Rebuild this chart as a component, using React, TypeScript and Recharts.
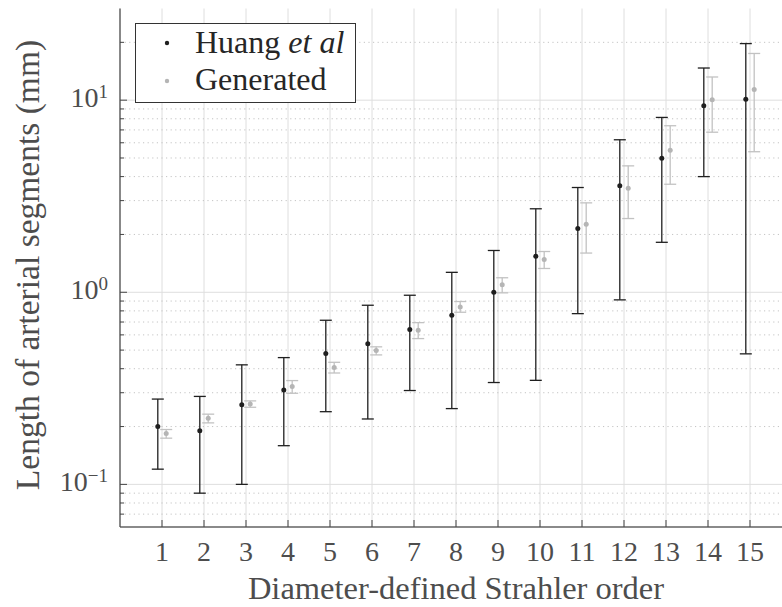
import React from 'react';
import {
  ScatterChart,
  Scatter,
  XAxis,
  YAxis,
  CartesianGrid,
  ErrorBar,
  ReferenceLine,
  Legend,
  Label,
} from 'recharts';

// Strahler orders (diameter-defined)
const orders = [1, 2, 3, 4, 5, 6, 7, 8, 9, 10, 11, 12, 13, 14, 15];

// Huang et al: mean segment length and its range (mm)
const huangMean = [0.2, 0.19, 0.26, 0.31, 0.48, 0.54, 0.64, 0.76, 1.0, 1.54, 2.15, 3.58, 4.99, 9.35, 10.1];
const huangLow = [0.12, 0.09, 0.1, 0.159, 0.239, 0.219, 0.308, 0.248, 0.339, 0.348, 0.774, 0.913, 1.82, 4.0, 0.478];
const huangHigh = [0.278, 0.287, 0.419, 0.457, 0.715, 0.856, 0.965, 1.27, 1.65, 2.72, 3.51, 6.22, 8.13, 14.7, 19.7];

// Generated tree: mean segment length and its range (mm)
const genMean = [0.184, 0.221, 0.262, 0.323, 0.406, 0.497, 0.634, 0.839, 1.093, 1.48, 2.26, 3.48, 5.49, 10.05, 11.37];
const genLow = [0.174, 0.209, 0.252, 0.298, 0.38, 0.472, 0.574, 0.787, 0.993, 1.33, 1.6, 2.42, 3.65, 6.81, 5.39];
const genHigh = [0.193, 0.232, 0.272, 0.347, 0.432, 0.52, 0.695, 0.895, 1.19, 1.63, 2.92, 4.55, 7.36, 13.2, 17.5];

// Axis ticks
const xTicks = orders;
const yMajorTicks = [0.1, 1, 10];
const yMinorTicks = [0.07, 0.08, 0.09, 0.2, 0.3, 0.4, 0.5, 0.6, 0.7, 0.8, 0.9, 2, 3, 4, 5, 6, 7, 8, 9, 20];
const yDomain = [0.06, 30];
const xDomain = [0, 16];

const HUANG_NAME = 'Huang et al';
const GEN_NAME = 'Generated';

const FONT = 'Liberation Serif, Tinos, Times New Roman, DejaVu Serif, Noto Serif, serif';
const TEXT = '#4d4d4d';
const AXIS = '#444444';
const GRID = '#dedede';
const DARK = '#1f1f1f';
const LIGHT = '#b5b5b5';
const SHIFT = 0.1;

const buildSeries = (mean: number[], low: number[], high: number[], shift: number) =>
  orders.map((o, i) => ({
    x: o + shift,
    y: mean[i],
    err: [mean[i] - low[i], high[i] - mean[i]],
  }));

const huangData = buildSeries(huangMean, huangLow, huangHigh, -SHIFT);
const genData = buildSeries(genMean, genLow, genHigh, SHIFT);

const isMajor = (v: number) => Math.abs(Math.log10(v) - Math.round(Math.log10(v))) < 1e-9;

function YTick(props: any) {
  const { x, y, payload } = props;
  const v = payload.value;
  const major = isMajor(v);
  const exp = Math.round(Math.log10(v));
  return (
    <g>
      <line x1={x} y1={y} x2={x + (major ? 7 : 4)} y2={y} stroke={AXIS} strokeWidth={1} />
      {major && (
        <text x={x - 12} y={y + 7} textAnchor="end" style={{ fontFamily: FONT }} fontSize={28} fill={TEXT}>
          10
          <tspan dy={-9} fontSize={19}>
            {exp < 0 ? '\u2212' + Math.abs(exp) : String(exp)}
          </tspan>
        </text>
      )}
    </g>
  );
}

function XTickBottom(props: any) {
  const { x, y, payload } = props;
  return (
    <g>
      <line x1={x} y1={y} x2={x} y2={y - 7} stroke={AXIS} strokeWidth={1} />
      <text x={x} y={y + 34} textAnchor="middle" style={{ fontFamily: FONT }} fontSize={28} fill={TEXT}>
        {payload.value}
      </text>
    </g>
  );
}

function XTickTop(props: any) {
  const { x, y } = props;
  return <line x1={x} y1={y} x2={x} y2={y + 7} stroke={AXIS} strokeWidth={1} />;
}

const Dot = (color: string) => (p: any) => <circle cx={p.cx} cy={p.cy} r={2.5} fill={color} />;

function LegendBox() {
  return (
    <svg width={222} height={81} style={{ display: 'block' }}>
      <rect x={0.5} y={0.5} width={220} height={79} fill="#fff" stroke="#333" strokeWidth={1} />
      <circle cx={32} cy={20} r={2.2} fill={DARK} />
      <text x={60} y={30} style={{ fontFamily: FONT }} fontSize={32} fill="#262626">
        Huang <tspan fontStyle="italic">et al</tspan>
      </text>
      <circle cx={32} cy={58} r={2.2} fill={LIGHT} />
      <text x={60} y={66.5} style={{ fontFamily: FONT }} fontSize={32} fill="#262626">
        {GEN_NAME}
      </text>
    </svg>
  );
}

export default function App() {
  return (
    <div style={{ width: 782, height: 607, overflow: 'hidden', position: 'relative', background: '#fff' }}>
      <style>{'html,body{margin:0;padding:0;overflow:hidden;background:#fff}'}</style>
      <ScatterChart width={800} height={607} margin={{ top: 8.5, right: 8, bottom: 0, left: 0 }}>
        <CartesianGrid horizontal={false} stroke={GRID} strokeWidth={1} />
        {yMinorTicks.map((v) => (
          <ReferenceLine key={'m' + v} y={v} stroke="#c4c4c4" strokeWidth={1} strokeDasharray="1.2 3.4" />
        ))}
        {yMajorTicks.map((v) => (
          <ReferenceLine key={'M' + v} y={v} stroke={GRID} strokeWidth={1} />
        ))}
        <XAxis
          type="number"
          dataKey="x"
          domain={xDomain}
          ticks={xTicks}
          allowDataOverflow
          height={80}
          tickLine={false}
          tickSize={0}
          tickMargin={0}
          tick={<XTickBottom />}
          axisLine={{ stroke: '#8a8a8a', strokeWidth: 2 }}
          interval={0}
        >
          <Label
            content={() => (
              <text x={456} y={599} textAnchor="middle" style={{ fontFamily: FONT }} fontSize={32.5} fill={TEXT}>
                Diameter-defined Strahler order
              </text>
            )}
          />
        </XAxis>
        <XAxis
          xAxisId="top"
          orientation="top"
          type="number"
          domain={xDomain}
          ticks={xTicks}
          allowDataOverflow
          height={0}
          tickLine={false}
          tickSize={0}
          tickMargin={0}
          tick={<XTickTop />}
          axisLine={{ stroke: AXIS, strokeWidth: 1.2 }}
          interval={0}
        />
        <YAxis
          type="number"
          dataKey="y"
          scale="log"
          domain={yDomain}
          allowDataOverflow
          ticks={[...yMajorTicks, ...yMinorTicks]}
          width={120}
          tickLine={false}
          tickSize={0}
          tickMargin={0}
          tick={<YTick />}
          axisLine={{ stroke: AXIS, strokeWidth: 1.2 }}
          interval={0}
        >
          <Label
            content={() => (
              <text
                x={39}
                y={265}
                transform="rotate(-90, 39, 265)"
                textAnchor="middle"
                style={{ fontFamily: FONT }}
                fontSize={33.5}
                fill={TEXT}
              >
                Length of arterial segments (mm)
              </text>
            )}
          />
        </YAxis>
        <Legend
          layout="vertical"
          align="center"
          verticalAlign="middle"
          content={() => <LegendBox />}
          wrapperStyle={{ position: 'absolute', left: 135, top: 23, width: 222, height: 81 }}
        />
        <Scatter name={HUANG_NAME} data={huangData} fill={DARK} shape={Dot(DARK)} isAnimationActive={false}>
          <ErrorBar dataKey="err" direction="y" width={6} stroke={DARK} strokeWidth={1.3} isAnimationActive={false} />
        </Scatter>
        <Scatter name={GEN_NAME} data={genData} fill={LIGHT} shape={Dot(LIGHT)} isAnimationActive={false}>
          <ErrorBar dataKey="err" direction="y" width={6} stroke="#c2c2c2" strokeWidth={1.3} isAnimationActive={false} />
        </Scatter>
      </ScatterChart>
    </div>
  );
}
